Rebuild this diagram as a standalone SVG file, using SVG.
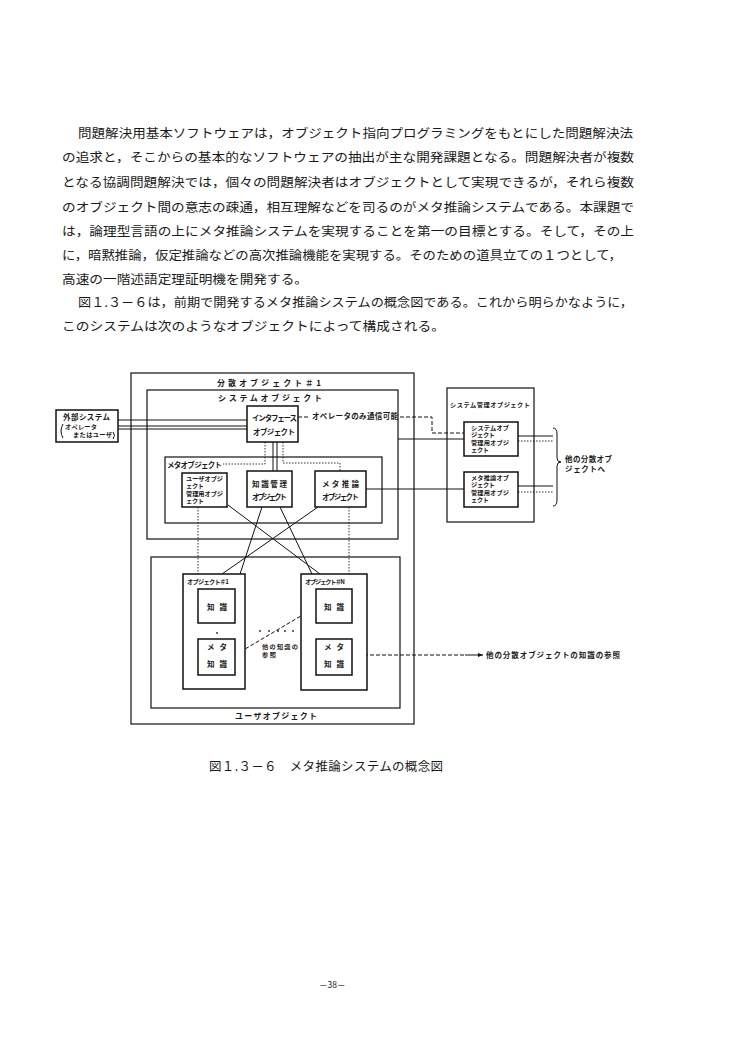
<svg xmlns="http://www.w3.org/2000/svg" width="750" height="1054" viewBox="0 0 750 1054">
<style>
.t{font-family:"Noto Sans CJK JP","Noto Sans CJK SC",sans-serif;fill:#1a1a1a}
.b{font-size:12.5px}
.s{font-size:7.5px;font-weight:700}
.q{font-size:6.2px;font-weight:700}
.m{font-size:8px;font-weight:700}
.box{fill:none;stroke:#111;stroke-width:1.2}
.ib{fill:#fff;stroke:#111;stroke-width:1.5}
.ln{fill:none;stroke:#111;stroke-width:1}
.dl{fill:none;stroke:#111;stroke-width:1;stroke-dasharray:4 2}
.dt{fill:none;stroke:#333;stroke-width:1;stroke-dasharray:1.5 1.5}
</style>
<rect width="750" height="1054" fill="#fff"/>
<g id="paragraph">
<text class="t b" x="78" y="138" textLength="555" lengthAdjust="spacingAndGlyphs">問題解決用基本ソフトウェアは，オブジェクト指向プログラミングをもとにした問題解決法</text>
<text class="t b" x="62" y="162" textLength="572" lengthAdjust="spacingAndGlyphs">の追求と，そこからの基本的なソフトウェアの抽出が主な開発課題となる。問題解決者が複数</text>
<text class="t b" x="62" y="187" textLength="572" lengthAdjust="spacingAndGlyphs">となる協調問題解決では，個々の問題解決者はオブジェクトとして実現できるが，それら複数</text>
<text class="t b" x="62" y="212" textLength="572" lengthAdjust="spacingAndGlyphs">のオブジェクト間の意志の疎通，相互理解などを司るのがメタ推論システムである。本課題で</text>
<text class="t b" x="62" y="236" textLength="572" lengthAdjust="spacingAndGlyphs">は，論理型言語の上にメタ推論システムを実現することを第一の目標とする。そして，その上</text>
<text class="t b" x="62" y="260" textLength="560" lengthAdjust="spacingAndGlyphs">に，暗黙推論，仮定推論などの高次推論機能を実現する。そのための道具立ての１つとして，</text>
<text class="t b" x="62" y="284" textLength="246" lengthAdjust="spacingAndGlyphs">高速の一階述語定理証明機を開発する。</text>
<text class="t b" x="78" y="307" textLength="555" lengthAdjust="spacingAndGlyphs">図１.３－６は，前期で開発するメタ推論システムの概念図である。これから明らかなように，</text>
<text class="t b" x="62" y="331" textLength="383" lengthAdjust="spacingAndGlyphs">このシステムは次のようなオブジェクトによって構成される。</text>
</g>
<g id="connectors">
<line class="ln" x1="118" y1="420" x2="247" y2="420"/>
<line class="ln" x1="118" y1="426" x2="247" y2="426"/>
<line class="ln" x1="118" y1="429" x2="247" y2="429"/>
<line class="dl" x1="298" y1="417" x2="310" y2="417"/>
<polyline class="dl" points="400,417 432,417 432,433 464,433"/>
<line class="ln" x1="398" y1="439" x2="464" y2="439"/>
<line class="ln" x1="366" y1="489" x2="464" y2="489"/>
<line class="ln" x1="518" y1="436" x2="553" y2="436"/>
<line class="dt" x1="518" y1="441" x2="553" y2="441"/>
<line class="ln" x1="518" y1="486" x2="553" y2="486" stroke-width="1.5"/>
<line class="dt" x1="518" y1="492" x2="553" y2="492"/>
<path class="ln" d="M553,428 Q557,428 557,434 L557,458 Q557,462 561,462 Q557,462 557,466 L557,500 Q557,506 553,506"/>
<polyline class="dt" points="265,442 265,464 223,464"/>
<line class="ln" x1="273" y1="442" x2="273" y2="471"/>
<line class="ln" x1="277" y1="442" x2="277" y2="471"/>
<polyline class="dt" points="283,442 283,463 340,463 340,471"/>
<line class="dt" x1="198" y1="507" x2="198" y2="574"/>
<line class="dt" x1="349" y1="507" x2="349" y2="574"/>
<line class="ln" x1="228" y1="505" x2="320" y2="574"/>
<line class="ln" x1="262" y1="507" x2="240" y2="574"/>
<line class="ln" x1="280" y1="507" x2="312" y2="574"/>
<line class="ln" x1="318" y1="507" x2="222" y2="574"/>
<line class="dl" x1="235" y1="655" x2="316" y2="607"/>
<line class="dl" x1="352" y1="655" x2="465" y2="655"/>
<line class="ln" x1="465" y1="655" x2="483" y2="655"/>
<path d="M483,655 l-5,-2 l0,4 z" fill="#111"/>
</g>
<g id="distributed-object-1">
<rect class="box" x="131" y="373" width="283" height="351"/>
<text class="t m" x="217" y="386" textLength="104" lengthAdjust="spacing">分散オブジェクト＃1</text>
</g>
<g id="system-object">
<rect class="box" x="147" y="390" width="251" height="149"/>
<text class="t m" x="218" y="401" textLength="104" lengthAdjust="spacing">システムオブジェクト</text>
</g>
<g id="external-system">
<rect class="ib" x="56" y="410" width="62" height="32"/>
<text class="t s" x="63" y="420" textLength="47" lengthAdjust="spacing">外部システム</text>
<text class="t q" x="65" y="429" textLength="32" lengthAdjust="spacing">オペレータ</text>
<text class="t q" x="73" y="437" textLength="39" lengthAdjust="spacing">またはユーザ</text>
<path class="ln" d="M63,424 Q59,431 63,438"/>
<path class="ln" d="M113,432 Q116,435 113,439"/>
</g>
<g id="interface-object">
<rect class="ib" x="247" y="406" width="51" height="36"/>
<text class="t s" x="252" y="421" textLength="45" lengthAdjust="spacing">インタフェース</text>
<text class="t s" x="253" y="435" textLength="42" lengthAdjust="spacing">オブジェクト</text>
</g>
<g id="operator-label">
<text class="t s" x="312" y="419" textLength="86" lengthAdjust="spacing">オペレータのみ通信可能</text>
</g>
<g id="meta-object">
<rect class="box" x="165" y="457" width="217" height="66"/>
<text class="t s" x="167" y="468" textLength="55" lengthAdjust="spacing">メタオブジェクト</text>
</g>
<g id="user-mgmt-object">
<rect class="ib" x="182" y="473" width="45" height="34"/>
<text class="t q" x="186" y="481" textLength="37" lengthAdjust="spacing">ユーザオブジ</text>
<text class="t q" x="186" y="488" textLength="18" lengthAdjust="spacing">ェクト</text>
<text class="t q" x="186" y="496" textLength="37" lengthAdjust="spacing">管理用オブジ</text>
<text class="t q" x="186" y="503" textLength="18" lengthAdjust="spacing">ェクト</text>
</g>
<g id="knowledge-mgmt-object">
<rect class="ib" x="247" y="471" width="45" height="36"/>
<text class="t s" x="252" y="487" textLength="35" lengthAdjust="spacing">知識管理</text>
<text class="t s" x="252" y="500" textLength="35" lengthAdjust="spacing">オブジェクト</text>
</g>
<g id="meta-inference-object">
<rect class="ib" x="315" y="471" width="51" height="36"/>
<text class="t s" x="322" y="487" textLength="37" lengthAdjust="spacing">メタ推論</text>
<text class="t s" x="322" y="500" textLength="37" lengthAdjust="spacing">オブジェクト</text>
</g>
<g id="system-mgmt-object">
<rect class="box" x="447" y="388" width="87" height="134"/>
<text class="t q" x="450" y="407" textLength="80" lengthAdjust="spacing">システム管理オブジェクト</text>
</g>
<g id="sysobj-mgmt-object">
<rect class="ib" x="464" y="422" width="54" height="34"/>
<text class="t q" x="471" y="430" textLength="38" lengthAdjust="spacing">システムオブ</text>
<text class="t q" x="471" y="437" textLength="24" lengthAdjust="spacing">ジェクト</text>
<text class="t q" x="471" y="445" textLength="38" lengthAdjust="spacing">管理用オブジ</text>
<text class="t q" x="471" y="452" textLength="18" lengthAdjust="spacing">ェクト</text>
</g>
<g id="metainf-mgmt-object">
<rect class="ib" x="464" y="472" width="54" height="35"/>
<text class="t q" x="471" y="480" textLength="38" lengthAdjust="spacing">メタ推論オブ</text>
<text class="t q" x="471" y="487" textLength="24" lengthAdjust="spacing">ジェクト</text>
<text class="t q" x="471" y="495" textLength="38" lengthAdjust="spacing">管理用オブジ</text>
<text class="t q" x="471" y="502" textLength="18" lengthAdjust="spacing">ェクト</text>
</g>
<g id="other-objects-label">
<text class="t s" x="565" y="462" textLength="47" lengthAdjust="spacing">他の分散オブ</text>
<text class="t s" x="565" y="472" textLength="40" lengthAdjust="spacing">ジェクトへ</text>
</g>
<g id="user-object">
<rect class="box" x="151" y="557" width="249" height="151"/>
<text class="t m" x="235" y="719" textLength="82" lengthAdjust="spacing">ユーザオブジェクト</text>
</g>
<g id="object-1">
<rect class="ib" x="183" y="574" width="62" height="115"/>
<text class="t q" x="187" y="584" textLength="42" lengthAdjust="spacing">オブジェクト＃1</text>
<rect class="ib" x="198" y="589" width="37" height="34"/>
<text class="t s" x="207" y="610" textLength="20" lengthAdjust="spacing">知識</text>
<circle cx="217" cy="633" r="0.9" fill="#222"/>
<rect class="ib" x="198" y="639" width="37" height="36"/>
<text class="t s" x="207" y="650" textLength="20" lengthAdjust="spacing">メタ</text>
<text class="t s" x="207" y="667" textLength="20" lengthAdjust="spacing">知識</text>
</g>
<g id="object-n">
<rect class="ib" x="301" y="574" width="66" height="116"/>
<text class="t q" x="305" y="584" textLength="40" lengthAdjust="spacing">オブジェクト＃N</text>
<rect class="ib" x="316" y="589" width="36" height="34"/>
<text class="t s" x="324" y="610" textLength="20" lengthAdjust="spacing">知識</text>
<rect class="ib" x="316" y="639" width="36" height="36"/>
<text class="t s" x="324" y="650" textLength="20" lengthAdjust="spacing">メタ</text>
<text class="t s" x="324" y="667" textLength="20" lengthAdjust="spacing">知識</text>
</g>
<g id="reference-labels">
<g fill="#222"><circle cx="260" cy="631" r="0.9"/><circle cx="269" cy="631" r="0.9"/><circle cx="278" cy="631" r="0.9"/><circle cx="285" cy="631" r="0.9"/><circle cx="293" cy="631" r="0.9"/></g>
<text class="t q" x="262" y="649" textLength="36" lengthAdjust="spacing">他の知識の</text>
<text class="t q" x="262" y="657" textLength="14" lengthAdjust="spacing">参照</text>
<text class="t s" x="486" y="658" textLength="134" lengthAdjust="spacing">他の分散オブジェクトの知識の参照</text>
</g>
<g id="caption">
<text class="t" font-size="12.5" x="209" y="771" textLength="234" lengthAdjust="spacing">図１.３－６　メタ推論システムの概念図</text>
</g>
<g id="page-number">
<text class="t" font-size="8.5" x="319" y="988">－38－</text>
</g>
</svg>
